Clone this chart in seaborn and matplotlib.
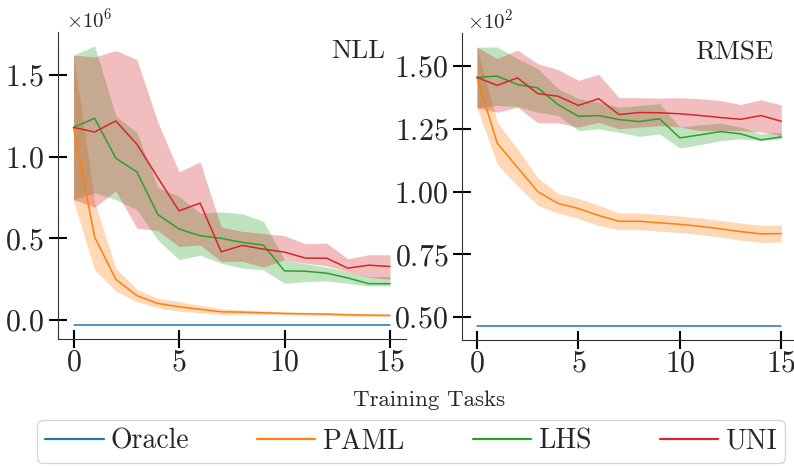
import numpy as np
import matplotlib
matplotlib.use("Agg")
import matplotlib.pyplot as plt
from matplotlib.ticker import MultipleLocator, ScalarFormatter
import seaborn as sns

# ---------------------------------------------------------------- data
tasks = list(range(16))
methods = ["Oracle", "PAML", "LHS", "UNI"]
colors = ["#1f77b4", "#ff7f0e", "#2ca02c", "#d62728"]

# Negative log-likelihood, in units of 1e6
nll_oracle = [-0.03] * 16
nll_paml = [1.178, 0.508, 0.25, 0.15, 0.102, 0.082, 0.066, 0.051, 0.049, 0.045, 0.041, 0.039, 0.037, 0.033, 0.031, 0.029]
nll_paml_lo = [0.727, 0.307, 0.178, 0.113, 0.076, 0.055, 0.046, 0.035, 0.038, 0.035, 0.032, 0.030, 0.028, 0.025, 0.023, 0.021]
nll_paml_hi = [1.62, 0.72, 0.318, 0.189, 0.133, 0.113, 0.090, 0.070, 0.062, 0.056, 0.050, 0.048, 0.046, 0.041, 0.039, 0.037]
nll_lhs = [1.178, 1.234, 0.99, 0.906, 0.645, 0.557, 0.516, 0.50, 0.475, 0.459, 0.301, 0.299, 0.287, 0.258, 0.223, 0.223]
nll_lhs_lo = [0.737, 0.778, 0.737, 0.675, 0.49, 0.37, 0.397, 0.348, 0.318, 0.307, 0.225, 0.236, 0.240, 0.225, 0.209, 0.209]
nll_lhs_hi = [1.62, 1.676, 1.25, 1.148, 0.81, 0.757, 0.654, 0.662, 0.65, 0.604, 0.369, 0.345, 0.324, 0.297, 0.266, 0.266]
nll_uni = [1.178, 1.15, 1.218, 1.076, 0.87, 0.668, 0.716, 0.418, 0.457, 0.434, 0.416, 0.379, 0.379, 0.318, 0.336, 0.328]
nll_uni_lo = [0.737, 0.69, 0.79, 0.562, 0.547, 0.45, 0.46, 0.36, 0.36, 0.324, 0.369, 0.348, 0.332, 0.297, 0.262, 0.25]
nll_uni_hi = [1.62, 1.609, 1.648, 1.594, 1.209, 0.906, 0.967, 0.57, 0.543, 0.53, 0.516, 0.467, 0.471, 0.375, 0.40, 0.40]

# Root mean squared error
rmse_oracle = [46.5] * 16
rmse_paml = [145.5, 119.3, 109.6, 100.0, 95.3, 93.3, 90.5, 88.2, 88.2, 87.6, 87.0, 86.2, 85.2, 84.1, 83.2, 83.3]
rmse_paml_lo = [133.4, 110.9, 102.3, 94.5, 91.4, 89.3, 86.5, 84.9, 84.9, 84.3, 83.7, 82.9, 81.9, 80.7, 79.8, 79.9]
rmse_paml_hi = [157.5, 127.7, 116.9, 105.5, 99.2, 97.3, 94.5, 91.5, 91.5, 90.9, 90.3, 89.5, 88.5, 87.5, 86.6, 86.7]
rmse_lhs = [145.5, 146.0, 142.6, 141.3, 134.6, 130.0, 130.3, 128.7, 127.9, 129.0, 121.4, 122.6, 123.9, 123.0, 120.6, 121.8]
rmse_lhs_lo = [133.4, 134.3, 133.9, 131.6, 130.3, 124.3, 125.0, 123.7, 122.0, 123.0, 117.4, 118.7, 120.3, 121.0, 120.3, 121.0]
rmse_lhs_hi = [157.5, 157.6, 153.0, 149.0, 141.0, 137.0, 135.6, 133.6, 134.3, 135.0, 125.7, 126.6, 127.3, 125.7, 123.0, 123.7]
rmse_uni = [145.5, 142.3, 145.3, 139.0, 138.0, 134.3, 137.0, 130.7, 131.5, 131.4, 131.0, 130.3, 129.5, 128.8, 130.3, 128.0]
rmse_uni_lo = [133.4, 131.6, 133.6, 127.4, 127.4, 125.7, 127.6, 125.0, 125.7, 126.3, 125.7, 124.3, 124.3, 124.3, 123.7, 122.3]
rmse_uni_hi = [157.5, 153.0, 156.3, 151.0, 148.6, 144.3, 146.7, 137.4, 137.4, 137.2, 137.4, 137.0, 136.3, 134.7, 136.6, 134.5]

NLL_UNIT = 1e6

# ---------------------------------------------------------------- style
sns.set_style("ticks")
plt.rcParams["font.family"] = "serif"
plt.rcParams["font.serif"] = ["cmr10", "DejaVu Serif"]
plt.rcParams["mathtext.fontset"] = "cm"
plt.rcParams["axes.formatter.use_mathtext"] = True

fig = plt.figure(figsize=(7.94, 4.66), dpi=100)
ax_nll = fig.add_axes([0.0727, 0.2725, 0.4384, 0.6588])
ax_rmse = fig.add_axes([0.5815, 0.2704, 0.4217, 0.6588])


def draw_panel(ax, series, title, title_x, ystep, offset_x):
    handles = []
    for name, color, (mean, lo, hi) in zip(methods, colors, series):
        if lo is not None:
            ax.fill_between(tasks, lo, hi, color=color, alpha=0.3, linewidth=0)
        sns.lineplot(x=tasks, y=mean, ax=ax, color=color, linewidth=1.1,
                     legend=False)
        handles.append(ax.lines[-1])
    ax.xaxis.set_major_locator(MultipleLocator(5))
    ax.yaxis.set_major_locator(MultipleLocator(ystep))
    fmt = ScalarFormatter(useMathText=True)
    fmt.set_powerlimits((0, 0))
    ax.yaxis.set_major_formatter(fmt)
    offset = ax.yaxis.get_offset_text()
    offset.set_fontsize(15)
    offset.set_x(offset_x)
    ax.tick_params(axis="both", direction="inout", length=13.5, width=1.5,
                   color="black", labelsize=21.5)
    ax.tick_params(axis="x", pad=0.5)
    ax.tick_params(axis="y", pad=3)
    for side in ("left", "bottom"):
        ax.spines[side].set_linewidth(0.8)
        ax.spines[side].set_color("#333333")
    sns.despine(ax=ax)
    ax.text(title_x, 0.975, title, transform=ax.transAxes, ha="right",
            va="top", fontsize=19.5)
    return handles


nll_series = [
    ([v * NLL_UNIT for v in nll_oracle], None, None),
    ([v * NLL_UNIT for v in nll_paml], [v * NLL_UNIT for v in nll_paml_lo], [v * NLL_UNIT for v in nll_paml_hi]),
    ([v * NLL_UNIT for v in nll_lhs], [v * NLL_UNIT for v in nll_lhs_lo], [v * NLL_UNIT for v in nll_lhs_hi]),
    ([v * NLL_UNIT for v in nll_uni], [v * NLL_UNIT for v in nll_uni_lo], [v * NLL_UNIT for v in nll_uni_hi]),
]
rmse_series = [
    (rmse_oracle, None, None),
    (rmse_paml, rmse_paml_lo, rmse_paml_hi),
    (rmse_lhs, rmse_lhs_lo, rmse_lhs_hi),
    (rmse_uni, rmse_uni_lo, rmse_uni_hi),
]

handles = draw_panel(ax_nll, nll_series, "NLL", 0.94, 0.5 * NLL_UNIT, 0.025)
draw_panel(ax_rmse, rmse_series, "RMSE", 0.93, 25, 0.015)

fig.text(0.54, 0.142, "Training Tasks", ha="center", va="center", fontsize=16.5)

leg = fig.legend(handles, methods, loc="upper left", ncol=4,
                 bbox_to_anchor=(37 / 794, 1 - 420 / 466), borderaxespad=0,
                 fontsize=20, frameon=True, fancybox=True,
                 handlelength=2.1, handletextpad=0.25, columnspacing=2.45,
                 borderpad=0.3)
leg.get_frame().set_edgecolor("#cccccc")
leg.get_frame().set_linewidth(1.0)
for line in leg.get_lines():
    line.set_linewidth(1.6)

fig.savefig("out.png", dpi=100)
